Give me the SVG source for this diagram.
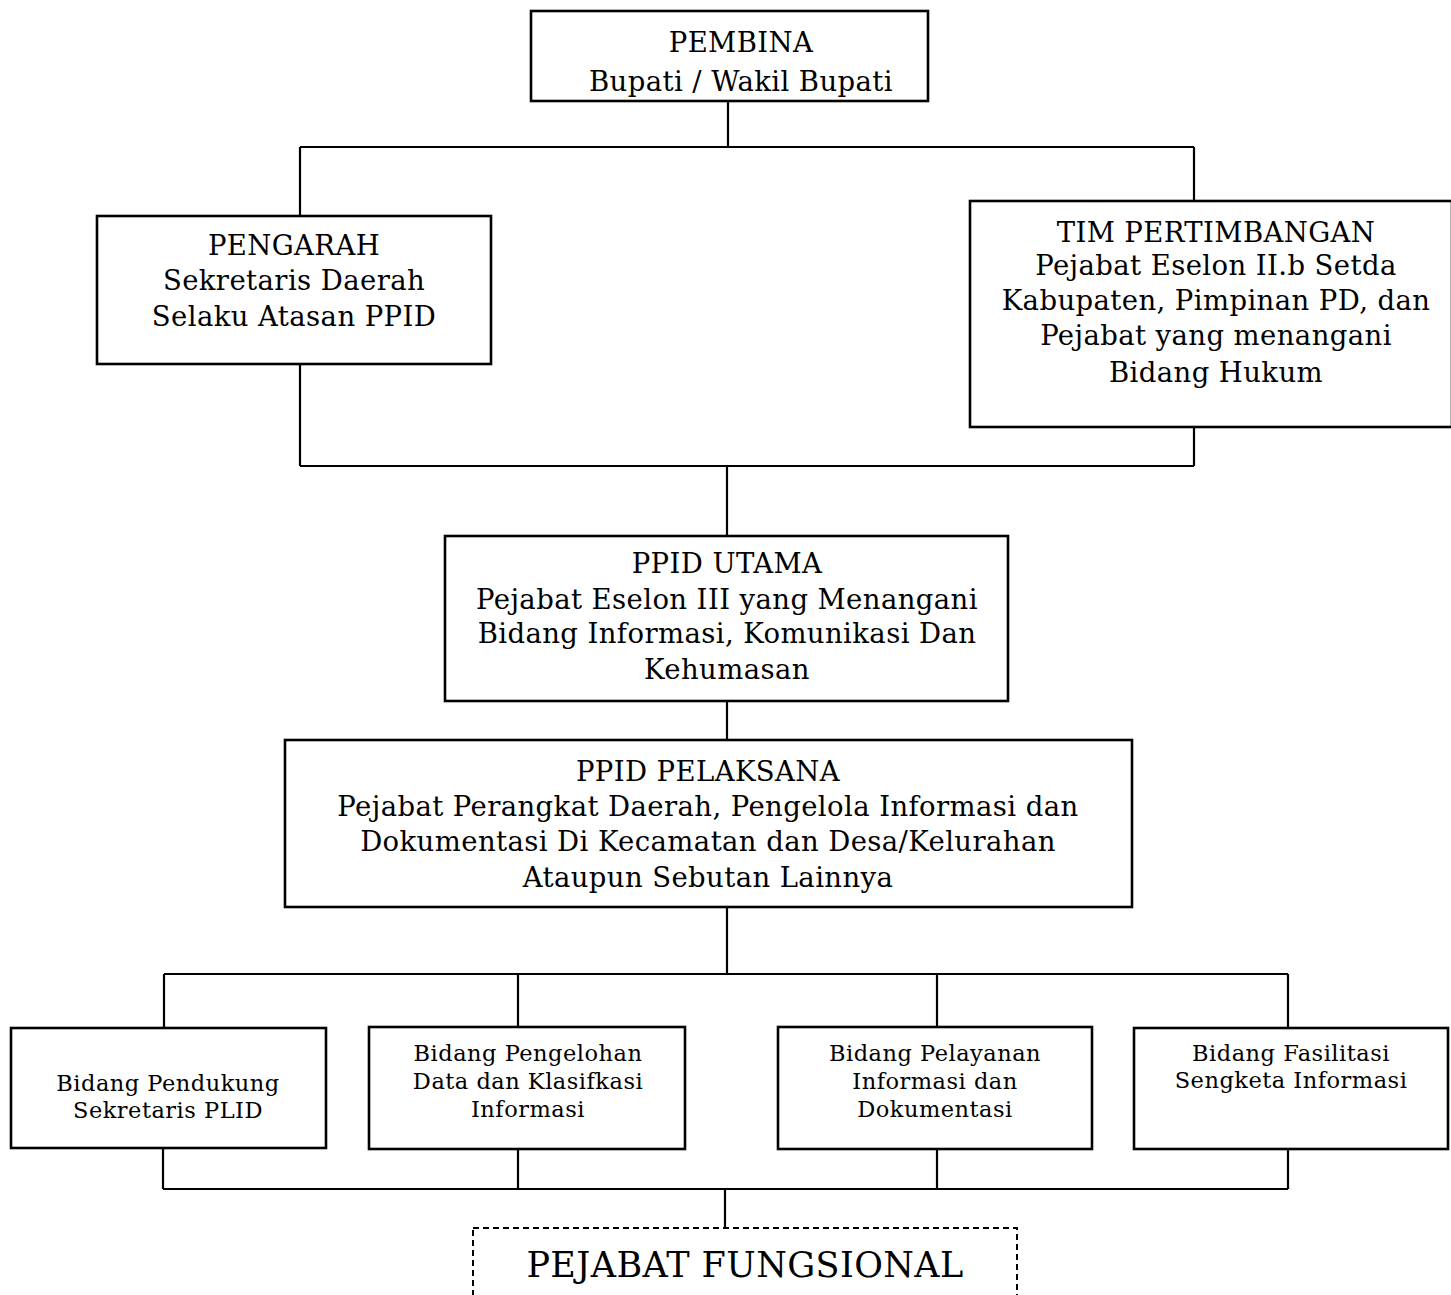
<svg xmlns="http://www.w3.org/2000/svg" width="1451" height="1295" viewBox="0 0 1451 1295">
<style>
.box{fill:#fff;stroke:#000;stroke-width:2.6}
.dash{fill:#fff;stroke:#000;stroke-width:2;stroke-dasharray:6 4}
.t{font-family:"DejaVu Serif","Liberation Serif",serif;font-size:27.5px;letter-spacing:0.4px;fill:#000;text-anchor:middle}
.s{font-family:"DejaVu Serif","Liberation Serif",serif;font-size:22.5px;letter-spacing:0.5px;fill:#000;text-anchor:middle}
.b{font-family:"DejaVu Serif","Liberation Serif",serif;font-size:35px;letter-spacing:0.4px;fill:#000;text-anchor:middle}
.c{fill:none;stroke:#000;stroke-width:2.2}
</style>
<rect width="1451" height="1295" fill="#fff"/>
<g id="connectors">
<path class="c" d="M728 101V147M300 147H1194M300 147V216M1194 147V201"/>
<path class="c" d="M300 364V466M1194 427V466M300 466H1194M727 466V536"/>
<path class="c" d="M727 701V740M727 907V974M164 974H1288M164 974V1027M518 974V1027M937 974V1027M1288 974V1027"/>
<path class="c" d="M163 1149V1189M518 1149V1189M937 1149V1189M1288 1149V1189M163 1189H1288M725 1189V1228"/>
</g>
<g id="pembina">
<rect class="box" x="531" y="11" width="397" height="90"/>
<text class="t" x="741" y="52">PEMBINA</text>
<text class="t" x="741" y="91">Bupati / Wakil Bupati</text>
</g>
<g id="pengarah">
<rect class="box" x="97" y="216" width="394" height="148"/>
<text class="t" x="294" y="255">PENGARAH</text>
<text class="t" x="294" y="290">Sekretaris Daerah</text>
<text class="t" x="294" y="326">Selaku Atasan PPID</text>
</g>
<g id="tim-pertimbangan">
<rect class="box" x="970" y="201" width="482" height="226"/>
<text class="t" x="1216" y="242">TIM PERTIMBANGAN</text>
<text class="t" x="1216" y="275">Pejabat Eselon II.b Setda</text>
<text class="t" x="1216" y="310">Kabupaten, Pimpinan PD, dan</text>
<text class="t" x="1216" y="345">Pejabat yang menangani</text>
<text class="t" x="1216" y="382">Bidang Hukum</text>
</g>
<g id="ppid-utama">
<rect class="box" x="445" y="536" width="563" height="165"/>
<text class="t" x="727" y="573">PPID UTAMA</text>
<text class="t" x="727" y="609">Pejabat Eselon III yang Menangani</text>
<text class="t" x="727" y="643">Bidang Informasi, Komunikasi Dan</text>
<text class="t" x="727" y="679">Kehumasan</text>
</g>
<g id="ppid-pelaksana">
<rect class="box" x="285" y="740" width="847" height="167"/>
<text class="t" x="708" y="781">PPID PELAKSANA</text>
<text class="t" x="708" y="816">Pejabat Perangkat Daerah, Pengelola Informasi dan</text>
<text class="t" x="708" y="851">Dokumentasi Di Kecamatan dan Desa/Kelurahan</text>
<text class="t" x="708" y="887">Ataupun Sebutan Lainnya</text>
</g>
<g id="bidang-pendukung">
<rect class="box" x="11" y="1028" width="315" height="120"/>
<text class="s" x="168" y="1091">Bidang Pendukung</text>
<text class="s" x="168" y="1118">Sekretaris PLID</text>
</g>
<g id="bidang-pengelohan">
<rect class="box" x="369" y="1027" width="316" height="122"/>
<text class="s" x="528" y="1061">Bidang Pengelohan</text>
<text class="s" x="528" y="1089">Data dan Klasifkasi</text>
<text class="s" x="528" y="1117">Informasi</text>
</g>
<g id="bidang-pelayanan">
<rect class="box" x="778" y="1027" width="314" height="122"/>
<text class="s" x="935" y="1061">Bidang Pelayanan</text>
<text class="s" x="935" y="1089">Informasi dan</text>
<text class="s" x="935" y="1117">Dokumentasi</text>
</g>
<g id="bidang-fasilitasi">
<rect class="box" x="1134" y="1028" width="314" height="121"/>
<text class="s" x="1291" y="1061">Bidang Fasilitasi</text>
<text class="s" x="1291" y="1088">Sengketa Informasi</text>
</g>
<g id="pejabat-fungsional">
<rect class="dash" x="473" y="1228" width="544" height="90"/>
<text class="b" x="745" y="1277">PEJABAT FUNGSIONAL</text>
</g>
</svg>
